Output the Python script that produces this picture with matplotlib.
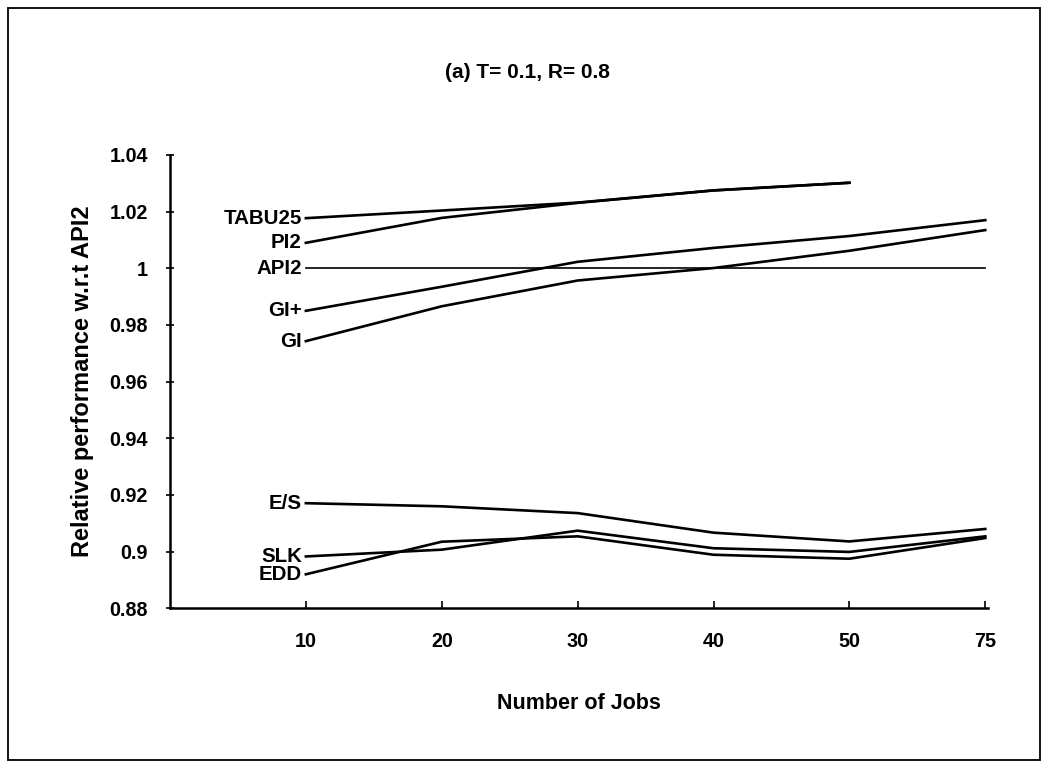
import matplotlib
matplotlib.use('Agg')
import matplotlib.pyplot as plt
from matplotlib.patches import Rectangle
import numpy as np

plt.rcParams.update({
    'font.family': ['Liberation Sans', 'DejaVu Sans'],
    'font.weight': 'bold',
    'font.size': 14,
})

# data (relative performance w.r.t. API2)
jobs = ['10', '20', '30', '40', '50', '75']
tabu25 = [1.0177, 1.0204, 1.0232, 1.0275, 1.0302, np.nan]
pi2 = [1.0090, 1.0178, 1.0231, 1.0275, 1.0302, np.nan]
api2 = [1.0, 1.0, 1.0, 1.0, 1.0, 1.0]
gi_plus = [0.9850, 0.9935, 1.0023, 1.0072, 1.0114, 1.0170]
gi = [0.9743, 0.9866, 0.9957, 1.0001, 1.0062, 1.0135]
es = [0.9171, 0.9160, 0.9136, 0.9067, 0.9036, 0.9080]
slk = [0.8983, 0.9007, 0.9074, 0.9012, 0.8999, 0.9054]
edd = [0.8920, 0.9035, 0.9054, 0.8989, 0.8975, 0.9048]

series = [
    ('TABU25', tabu25, 1.9),
    ('PI2', pi2, 1.9),
    ('API2', api2, 1.2),
    ('GI+', gi_plus, 1.9),
    ('GI', gi, 1.9),
    ('E/S', es, 1.9),
    ('SLK', slk, 1.9),
    ('EDD', edd, 1.9),
]
yticks = [0.88, 0.90, 0.92, 0.94, 0.96, 0.98, 1.00, 1.02, 1.04]
ytick_labels = ['0.88', '0.9', '0.92', '0.94', '0.96', '0.98', '1', '1.02', '1.04']

W, H = 1047, 766
fig = plt.figure(figsize=(W / 100, H / 100), dpi=100)
ax = fig.add_axes([170 / W, 1 - 608.3 / H, (988 - 170) / W, (608.3 - 155) / H])

x = np.arange(1, len(jobs) + 1)
for name, vals, lw in series:
    ax.plot(x, vals, color='black', linewidth=lw, solid_joinstyle='round')
    ax.text(x[0] - 0.03, vals[0], name, ha='right', va='center',
            fontsize=14.8, fontweight='bold')

ax.set_xlim(0, 6.02)
ax.set_ylim(0.88, 1.04)
ax.set_xticks(x)
ax.set_xticklabels(jobs)
ax.set_yticks(yticks)
ax.set_yticklabels(ytick_labels)
ax.tick_params(axis='x', direction='in', length=5, width=1.2, pad=17)
ax.tick_params(axis='y', direction='inout', length=6, width=1.2, pad=13)
ax.tick_params(labelsize=14.2)
for side in ('top', 'right'):
    ax.spines[side].set_visible(False)
for side in ('left', 'bottom'):
    ax.spines[side].set_linewidth(1.8)

ax.set_xlabel('Number of Jobs', fontsize=15.5, fontweight='bold', labelpad=30)
ax.set_ylabel('Relative performance w.r.t API2', fontsize=17,
              fontweight='bold', labelpad=11)

fig.text(527 / W, 1 - 73 / H, '(a) T= 0.1, R= 0.8', ha='center', va='center',
         fontsize=15, fontweight='bold')

fig.patches.append(Rectangle((8 / W, 6 / H), (1040 - 8) / W, (758 - 6) / H,
                             transform=fig.transFigure, fill=False,
                             edgecolor='black', linewidth=1.3))

fig.savefig('out.png', dpi=100)
